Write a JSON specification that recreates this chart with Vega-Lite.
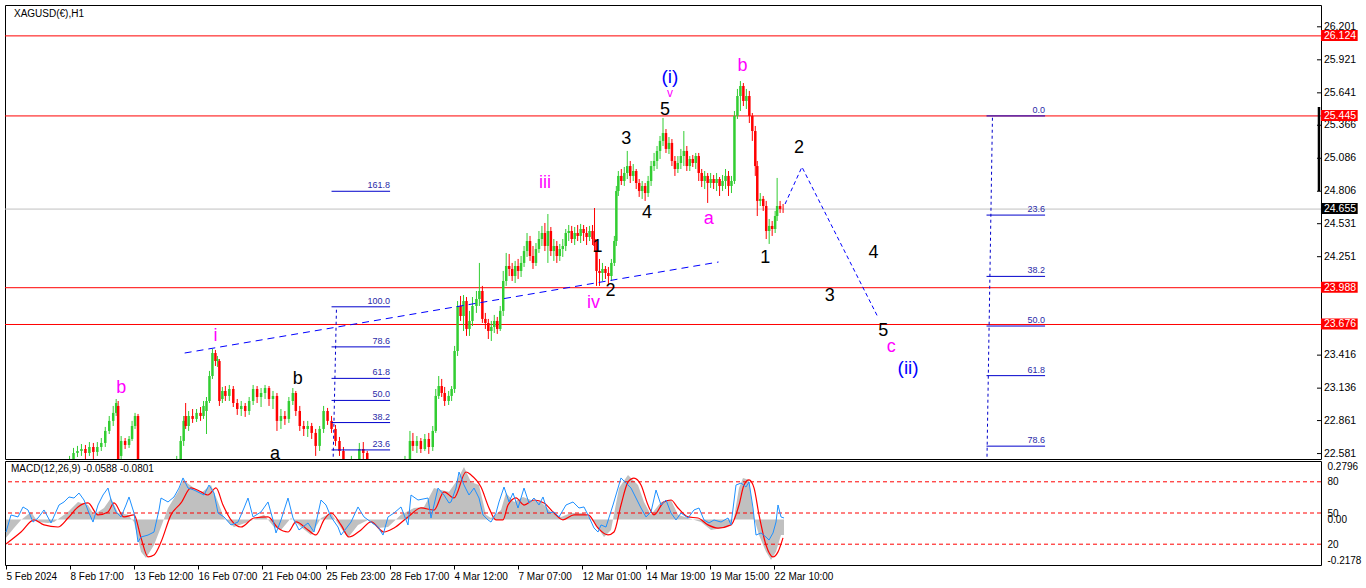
{
"$schema":"https://vega.github.io/schema/vega-lite/v6.json",
"background":"#ffffff",
"padding":{"left":4,"top":4,"right":0,"bottom":0},
"spacing":0,
"config":{"font":"Liberation Sans","view":{"stroke":"#000000","strokeWidth":1}},
"datasets":{
"reds":[{"p":26.124},{"p":25.445},{"p":23.988},{"p":23.676}],
"cur":[{"p":24.655}],
"pticks":[{"p":26.201},{"p":25.921},{"p":25.641},{"p":25.366},{"p":25.086},{"p":24.806},{"p":24.531},{"p":24.251},{"p":23.416},{"p":23.136},{"p":22.861},{"p":22.581}],
"titles":[{"txt":"XAGUSD(€),H1"}],
"mtitle":[{"txt":"MACD(12,26,9) -0.0588 -0.0801"}],
"trend":[{"t":176,"p":23.434},{"t":714,"p":24.206}],
"proj":[{"t":781,"p":24.698},{"t":798,"p":25.012},{"t":874,"p":23.748}],
"fibv":[{"g":"L","t":329,"p":23.826},{"g":"L","t":325,"p":22.3},{"g":"R","t":990,"p":25.445},{"g":"R","t":984,"p":22.3}],
"fib":[
{"t0":324,"t1":383,"p":24.806,"lvl":"161.8"},
{"t0":324,"t1":383,"p":23.826,"lvl":"100.0"},
{"t0":324,"t1":383,"p":23.486,"lvl":"78.6"},
{"t0":324,"t1":383,"p":23.219,"lvl":"61.8"},
{"t0":324,"t1":383,"p":23.032,"lvl":"50.0"},
{"t0":324,"t1":383,"p":22.844,"lvl":"38.2"},
{"t0":324,"t1":383,"p":22.612,"lvl":"23.6"},
{"t0":984,"t1":1043,"p":25.445,"lvl":"0.0"},
{"t0":984,"t1":1043,"p":24.604,"lvl":"23.6"},
{"t0":984,"t1":1043,"p":24.084,"lvl":"38.2"},
{"t0":984,"t1":1043,"p":23.663,"lvl":"50.0"},
{"t0":984,"t1":1043,"p":23.242,"lvl":"61.8"},
{"t0":984,"t1":1043,"p":22.644,"lvl":"78.6"}],
"waves":[
{"t":665,"p":25.776,"lab":"(i)","k":"blu"},
{"t":905,"p":23.307,"lab":"(ii)","k":"blu"},
{"t":665,"p":25.64,"lab":"v","k":"mag"},
{"t":660,"p":25.496,"lab":"5","k":"blk"},
{"t":738,"p":25.869,"lab":"b","k":"mag"},
{"t":621,"p":25.249,"lab":"3","k":"blk"},
{"t":539,"p":24.876,"lab":"iii","k":"mag"},
{"t":642,"p":24.622,"lab":"4","k":"blk"},
{"t":704,"p":24.571,"lab":"a","k":"mag"},
{"t":592,"p":24.333,"lab":"1","k":"blk"},
{"t":605,"p":23.96,"lab":"2","k":"blk"},
{"t":588,"p":23.858,"lab":"iv","k":"mag"},
{"t":761,"p":24.24,"lab":"1","k":"blk"},
{"t":795,"p":25.173,"lab":"2","k":"blk"},
{"t":870,"p":24.283,"lab":"4","k":"blk"},
{"t":826,"p":23.918,"lab":"3","k":"blk"},
{"t":880,"p":23.621,"lab":"5","k":"blk"},
{"t":888,"p":23.485,"lab":"c","k":"mag"},
{"t":207,"p":23.579,"lab":"i","k":"mag"},
{"t":112,"p":23.137,"lab":"b","k":"mag"},
{"t":290,"p":23.214,"lab":"b","k":"blk"},
{"t":267,"p":22.578,"lab":"a","k":"blk"}],
"candles":[
{"t":4,"o":22.349,"h":22.433,"l":22.306,"c":22.391},
{"t":12,"o":22.391,"h":22.467,"l":22.349,"c":22.433},
{"t":20,"o":22.433,"h":22.476,"l":22.366,"c":22.416},
{"t":28,"o":22.416,"h":22.493,"l":22.383,"c":22.45},
{"t":36,"o":22.45,"h":22.518,"l":22.416,"c":22.476},
{"t":44,"o":22.476,"h":22.501,"l":22.4,"c":22.433},
{"t":52,"o":22.433,"h":22.501,"l":22.391,"c":22.467},
{"t":60,"o":22.467,"h":22.561,"l":22.433,"c":22.518},
{"t":64,"o":22.518,"h":22.629,"l":22.501,"c":22.586},
{"t":68,"o":22.586,"h":22.646,"l":22.552,"c":22.603},
{"t":72,"o":22.603,"h":22.662,"l":22.561,"c":22.62},
{"t":76,"o":22.62,"h":22.654,"l":22.535,"c":22.586},
{"t":80,"o":22.586,"h":22.679,"l":22.561,"c":22.637},
{"t":84,"o":22.637,"h":22.671,"l":22.535,"c":22.595},
{"t":88,"o":22.595,"h":22.679,"l":22.561,"c":22.637},
{"t":92,"o":22.637,"h":22.713,"l":22.603,"c":22.671},
{"t":96,"o":22.671,"h":22.807,"l":22.637,"c":22.773},
{"t":100,"o":22.773,"h":22.9,"l":22.747,"c":22.858},
{"t":104,"o":22.858,"h":22.985,"l":22.815,"c":22.926},
{"t":107,"o":22.926,"h":23.044,"l":22.9,"c":23.01},
{"t":109,"o":22.985,"h":23.027,"l":22.476,"c":22.518},
{"t":112,"o":22.561,"h":22.73,"l":22.518,"c":22.688},
{"t":116,"o":22.688,"h":22.713,"l":22.62,"c":22.654},
{"t":120,"o":22.654,"h":22.73,"l":22.629,"c":22.705},
{"t":123,"o":22.705,"h":22.858,"l":22.688,"c":22.815},
{"t":126,"o":22.815,"h":22.926,"l":22.79,"c":22.9},
{"t":129,"o":22.9,"h":22.917,"l":22.391,"c":22.433},
{"t":136,"o":22.433,"h":22.476,"l":22.264,"c":22.349},
{"t":144,"o":22.349,"h":22.391,"l":22.221,"c":22.264},
{"t":152,"o":22.264,"h":22.349,"l":22.179,"c":22.306},
{"t":160,"o":22.306,"h":22.433,"l":22.264,"c":22.391},
{"t":168,"o":22.391,"h":22.561,"l":22.349,"c":22.518},
{"t":172,"o":22.518,"h":22.73,"l":22.476,"c":22.688},
{"t":175,"o":22.688,"h":22.9,"l":22.646,"c":22.858},
{"t":177,"o":22.9,"h":23.01,"l":22.79,"c":22.815},
{"t":180,"o":22.815,"h":22.942,"l":22.773,"c":22.9},
{"t":184,"o":22.9,"h":22.959,"l":22.841,"c":22.875},
{"t":188,"o":22.875,"h":22.959,"l":22.849,"c":22.926},
{"t":192,"o":22.926,"h":22.976,"l":22.858,"c":22.9},
{"t":195,"o":22.9,"h":23.027,"l":22.875,"c":22.985},
{"t":198,"o":22.942,"h":23.061,"l":22.747,"c":23.027},
{"t":201,"o":23.027,"h":23.282,"l":23.01,"c":23.239},
{"t":204,"o":23.239,"h":23.468,"l":23.214,"c":23.434},
{"t":207,"o":23.434,"h":23.46,"l":23.324,"c":23.366},
{"t":209,"o":23.366,"h":23.409,"l":23.316,"c":23.383},
{"t":211,"o":23.366,"h":23.383,"l":22.985,"c":23.027},
{"t":214,"o":23.044,"h":23.146,"l":23.01,"c":23.112},
{"t":217,"o":23.112,"h":23.154,"l":23.027,"c":23.07},
{"t":221,"o":23.07,"h":23.163,"l":23.027,"c":23.129},
{"t":225,"o":23.129,"h":23.154,"l":22.976,"c":23.01},
{"t":229,"o":23.01,"h":23.044,"l":22.909,"c":22.959},
{"t":233,"o":22.959,"h":23.027,"l":22.9,"c":22.985},
{"t":237,"o":22.985,"h":23.01,"l":22.892,"c":22.942},
{"t":241,"o":22.942,"h":23.061,"l":22.909,"c":23.027},
{"t":245,"o":23.027,"h":23.163,"l":22.993,"c":23.129},
{"t":249,"o":23.129,"h":23.154,"l":23.01,"c":23.061},
{"t":253,"o":23.061,"h":23.137,"l":22.976,"c":23.095},
{"t":257,"o":23.095,"h":23.163,"l":23.044,"c":23.137},
{"t":261,"o":23.137,"h":23.154,"l":22.985,"c":23.044},
{"t":265,"o":23.044,"h":23.112,"l":22.959,"c":23.07},
{"t":269,"o":23.07,"h":23.095,"l":22.773,"c":22.858},
{"t":273,"o":22.858,"h":22.959,"l":22.79,"c":22.9},
{"t":277,"o":22.9,"h":22.942,"l":22.824,"c":22.875},
{"t":281,"o":22.875,"h":23.061,"l":22.841,"c":23.027},
{"t":285,"o":23.027,"h":23.137,"l":22.993,"c":23.095},
{"t":288,"o":23.095,"h":23.112,"l":22.9,"c":22.942},
{"t":292,"o":22.942,"h":22.985,"l":22.773,"c":22.815},
{"t":296,"o":22.815,"h":22.858,"l":22.73,"c":22.79},
{"t":300,"o":22.79,"h":22.858,"l":22.722,"c":22.815},
{"t":304,"o":22.815,"h":22.841,"l":22.705,"c":22.756},
{"t":308,"o":22.756,"h":22.79,"l":22.561,"c":22.646},
{"t":312,"o":22.646,"h":22.815,"l":22.603,"c":22.79},
{"t":316,"o":22.79,"h":22.985,"l":22.756,"c":22.942},
{"t":320,"o":22.942,"h":22.968,"l":22.824,"c":22.858},
{"t":324,"o":22.858,"h":22.9,"l":22.756,"c":22.79},
{"t":328,"o":22.79,"h":22.824,"l":22.646,"c":22.688},
{"t":332,"o":22.688,"h":22.722,"l":22.561,"c":22.603},
{"t":336,"o":22.603,"h":22.637,"l":22.433,"c":22.476},
{"t":344,"o":22.476,"h":22.561,"l":22.416,"c":22.501},
{"t":352,"o":22.501,"h":22.671,"l":22.476,"c":22.62},
{"t":356,"o":22.62,"h":22.679,"l":22.535,"c":22.586},
{"t":360,"o":22.586,"h":22.603,"l":22.433,"c":22.476},
{"t":368,"o":22.476,"h":22.518,"l":22.349,"c":22.391},
{"t":376,"o":22.391,"h":22.476,"l":22.332,"c":22.433},
{"t":384,"o":22.433,"h":22.476,"l":22.306,"c":22.366},
{"t":392,"o":22.366,"h":22.476,"l":22.332,"c":22.433},
{"t":398,"o":22.433,"h":22.561,"l":22.391,"c":22.518},
{"t":403,"o":22.518,"h":22.773,"l":22.501,"c":22.688},
{"t":406,"o":22.688,"h":22.756,"l":22.603,"c":22.646},
{"t":410,"o":22.646,"h":22.73,"l":22.586,"c":22.688},
{"t":414,"o":22.688,"h":22.713,"l":22.586,"c":22.62},
{"t":418,"o":22.62,"h":22.747,"l":22.603,"c":22.705},
{"t":422,"o":22.705,"h":22.756,"l":22.578,"c":22.637},
{"t":426,"o":22.637,"h":22.815,"l":22.603,"c":22.773},
{"t":429,"o":22.773,"h":23.129,"l":22.756,"c":23.07},
{"t":432,"o":23.07,"h":23.239,"l":23.044,"c":23.154},
{"t":435,"o":23.154,"h":23.214,"l":23.061,"c":23.095},
{"t":438,"o":23.095,"h":23.146,"l":22.985,"c":23.027},
{"t":442,"o":23.027,"h":23.112,"l":22.993,"c":23.07},
{"t":445,"o":23.07,"h":23.154,"l":23.027,"c":23.129},
{"t":448,"o":23.129,"h":23.494,"l":23.095,"c":23.451},
{"t":451,"o":23.451,"h":23.875,"l":23.409,"c":23.833},
{"t":454,"o":23.833,"h":23.918,"l":23.706,"c":23.748},
{"t":457,"o":23.748,"h":23.926,"l":23.621,"c":23.875},
{"t":460,"o":23.875,"h":23.909,"l":23.579,"c":23.638},
{"t":463,"o":23.638,"h":23.791,"l":23.579,"c":23.706},
{"t":466,"o":23.706,"h":23.909,"l":23.663,"c":23.833},
{"t":470,"o":23.833,"h":23.96,"l":23.774,"c":23.892},
{"t":473,"o":23.892,"h":24.198,"l":23.833,"c":23.96},
{"t":476,"o":23.96,"h":24.003,"l":23.689,"c":23.723},
{"t":479,"o":23.723,"h":23.774,"l":23.638,"c":23.689},
{"t":482,"o":23.689,"h":23.723,"l":23.553,"c":23.621},
{"t":485,"o":23.621,"h":23.706,"l":23.536,"c":23.655},
{"t":488,"o":23.655,"h":23.757,"l":23.604,"c":23.706},
{"t":491,"o":23.706,"h":23.74,"l":23.596,"c":23.638},
{"t":494,"o":23.638,"h":23.833,"l":23.621,"c":23.791},
{"t":497,"o":23.791,"h":24.13,"l":23.748,"c":24.045},
{"t":500,"o":24.045,"h":24.283,"l":24.003,"c":24.172},
{"t":503,"o":24.172,"h":24.274,"l":24.087,"c":24.147},
{"t":506,"o":24.147,"h":24.198,"l":24.045,"c":24.087},
{"t":509,"o":24.087,"h":24.215,"l":24.028,"c":24.172},
{"t":512,"o":24.172,"h":24.232,"l":24.062,"c":24.13},
{"t":515,"o":24.13,"h":24.257,"l":24.079,"c":24.198},
{"t":518,"o":24.198,"h":24.342,"l":24.164,"c":24.299},
{"t":521,"o":24.299,"h":24.452,"l":24.249,"c":24.384},
{"t":524,"o":24.384,"h":24.427,"l":24.215,"c":24.257},
{"t":527,"o":24.257,"h":24.342,"l":24.147,"c":24.198},
{"t":530,"o":24.198,"h":24.367,"l":24.172,"c":24.316},
{"t":533,"o":24.316,"h":24.469,"l":24.283,"c":24.401},
{"t":536,"o":24.401,"h":24.512,"l":24.342,"c":24.452},
{"t":539,"o":24.452,"h":24.537,"l":24.299,"c":24.342},
{"t":542,"o":24.342,"h":24.613,"l":24.198,"c":24.469},
{"t":545,"o":24.469,"h":24.503,"l":24.257,"c":24.299},
{"t":548,"o":24.299,"h":24.401,"l":24.215,"c":24.342},
{"t":551,"o":24.342,"h":24.384,"l":24.198,"c":24.257},
{"t":554,"o":24.257,"h":24.359,"l":24.215,"c":24.316},
{"t":557,"o":24.316,"h":24.401,"l":24.249,"c":24.342},
{"t":560,"o":24.342,"h":24.486,"l":24.299,"c":24.452},
{"t":563,"o":24.452,"h":24.52,"l":24.384,"c":24.469},
{"t":566,"o":24.469,"h":24.512,"l":24.367,"c":24.401},
{"t":569,"o":24.401,"h":24.503,"l":24.35,"c":24.452},
{"t":572,"o":24.452,"h":24.52,"l":24.384,"c":24.427},
{"t":575,"o":24.427,"h":24.529,"l":24.367,"c":24.486},
{"t":578,"o":24.486,"h":24.52,"l":24.384,"c":24.452},
{"t":581,"o":24.452,"h":24.503,"l":24.35,"c":24.418},
{"t":584,"o":24.418,"h":24.512,"l":24.384,"c":24.469},
{"t":587,"o":24.469,"h":24.52,"l":24.35,"c":24.401},
{"t":589,"o":24.401,"h":24.664,"l":24.299,"c":24.342},
{"t":591,"o":24.342,"h":24.384,"l":24.003,"c":24.13},
{"t":594,"o":24.13,"h":24.232,"l":24.003,"c":24.113},
{"t":597,"o":24.113,"h":24.198,"l":24.045,"c":24.147},
{"t":600,"o":24.147,"h":24.172,"l":24.062,"c":24.113},
{"t":603,"o":24.113,"h":24.164,"l":24.02,"c":24.087},
{"t":606,"o":24.087,"h":24.232,"l":24.045,"c":24.198},
{"t":609,"o":24.198,"h":24.427,"l":24.172,"c":24.384},
{"t":611,"o":24.384,"h":24.851,"l":24.342,"c":24.808},
{"t":613,"o":24.808,"h":24.978,"l":24.766,"c":24.936},
{"t":616,"o":24.936,"h":24.995,"l":24.859,"c":24.893},
{"t":619,"o":24.893,"h":25.012,"l":24.851,"c":24.961},
{"t":622,"o":24.961,"h":25.148,"l":24.91,"c":25.02},
{"t":625,"o":25.02,"h":25.063,"l":24.876,"c":24.936},
{"t":628,"o":24.936,"h":25.037,"l":24.893,"c":24.978},
{"t":631,"o":24.978,"h":24.995,"l":24.825,"c":24.876},
{"t":634,"o":24.876,"h":24.91,"l":24.758,"c":24.808},
{"t":637,"o":24.808,"h":24.893,"l":24.741,"c":24.851},
{"t":640,"o":24.851,"h":24.876,"l":24.724,"c":24.791},
{"t":643,"o":24.791,"h":24.936,"l":24.758,"c":24.893},
{"t":646,"o":24.893,"h":25.063,"l":24.851,"c":25.02},
{"t":649,"o":25.02,"h":25.131,"l":24.978,"c":25.063},
{"t":652,"o":25.063,"h":25.19,"l":24.995,"c":25.148},
{"t":655,"o":25.148,"h":25.275,"l":25.08,"c":25.233},
{"t":658,"o":25.233,"h":25.428,"l":25.19,"c":25.3},
{"t":661,"o":25.3,"h":25.334,"l":25.131,"c":25.165},
{"t":664,"o":25.165,"h":25.266,"l":25.122,"c":25.216},
{"t":667,"o":25.216,"h":25.249,"l":25.02,"c":25.063},
{"t":670,"o":25.063,"h":25.105,"l":24.936,"c":24.995},
{"t":673,"o":24.995,"h":25.105,"l":24.961,"c":25.046},
{"t":676,"o":25.046,"h":25.165,"l":24.995,"c":25.105},
{"t":679,"o":25.105,"h":25.317,"l":25.02,"c":25.148},
{"t":682,"o":25.148,"h":25.19,"l":24.978,"c":25.02},
{"t":685,"o":25.02,"h":25.105,"l":24.978,"c":25.08},
{"t":688,"o":25.08,"h":25.114,"l":25.012,"c":25.046},
{"t":691,"o":25.046,"h":25.131,"l":24.995,"c":25.105},
{"t":694,"o":25.105,"h":25.131,"l":24.893,"c":24.961},
{"t":697,"o":24.961,"h":24.995,"l":24.842,"c":24.893},
{"t":700,"o":24.893,"h":24.978,"l":24.825,"c":24.936},
{"t":703,"o":24.936,"h":24.961,"l":24.707,"c":24.876},
{"t":706,"o":24.876,"h":24.961,"l":24.834,"c":24.91},
{"t":709,"o":24.91,"h":24.944,"l":24.825,"c":24.876},
{"t":712,"o":24.876,"h":24.961,"l":24.808,"c":24.91},
{"t":715,"o":24.91,"h":24.927,"l":24.766,"c":24.851},
{"t":718,"o":24.851,"h":24.944,"l":24.808,"c":24.893},
{"t":721,"o":24.893,"h":24.995,"l":24.825,"c":24.936},
{"t":724,"o":24.936,"h":24.978,"l":24.766,"c":24.851},
{"t":727,"o":24.851,"h":24.936,"l":24.791,"c":24.893},
{"t":730,"o":24.893,"h":25.487,"l":24.868,"c":25.445},
{"t":733,"o":25.445,"h":25.674,"l":25.419,"c":25.614},
{"t":736,"o":25.614,"h":25.741,"l":25.487,"c":25.699},
{"t":739,"o":25.699,"h":25.724,"l":25.529,"c":25.572},
{"t":742,"o":25.572,"h":25.674,"l":25.504,"c":25.614},
{"t":745,"o":25.614,"h":25.657,"l":25.385,"c":25.445},
{"t":748,"o":25.445,"h":25.47,"l":25.233,"c":25.317},
{"t":751,"o":25.317,"h":25.36,"l":24.936,"c":25.02},
{"t":753,"o":25.02,"h":25.063,"l":24.596,"c":24.724},
{"t":756,"o":24.724,"h":24.791,"l":24.681,"c":24.741},
{"t":759,"o":24.741,"h":24.766,"l":24.639,"c":24.681},
{"t":762,"o":24.681,"h":24.724,"l":24.401,"c":24.469},
{"t":765,"o":24.469,"h":24.571,"l":24.359,"c":24.512},
{"t":768,"o":24.512,"h":24.554,"l":24.427,"c":24.486},
{"t":771,"o":24.486,"h":24.639,"l":24.452,"c":24.596},
{"t":773,"o":24.596,"h":24.919,"l":24.554,"c":24.681},
{"t":776,"o":24.681,"h":24.724,"l":24.622,"c":24.656},
{"t":779,"o":24.656,"h":24.698,"l":24.622,"c":24.655}],
"hist":[
{"t":1,"m":-0.088},{"t":9,"m":-0.041},{"t":16,"m":-0.002},{"t":26,"m":0.036},{"t":33,"m":-0.012},{"t":43,"m":-0.017},{"t":49,"m":-0.012},{"t":63,"m":0.036},{"t":73,"m":0.084},{"t":83,"m":0.069},{"t":89,"m":0.022},{"t":99,"m":0.055},{"t":106,"m":0.103},{"t":113,"m":0.031},{"t":123,"m":0.022},{"t":129,"m":-0.012},{"t":136,"m":-0.155},{"t":141,"m":-0.184},{"t":149,"m":-0.122},{"t":156,"m":-0.036},{"t":163,"m":0.055},{"t":173,"m":0.132},{"t":178,"m":0.189},{"t":189,"m":0.151},{"t":196,"m":0.127},{"t":206,"m":0.165},{"t":213,"m":0.084},{"t":219,"m":0.007},{"t":229,"m":-0.036},{"t":243,"m":-0.012},{"t":259,"m":0.022},{"t":269,"m":-0.036},{"t":276,"m":-0.05},{"t":286,"m":0.007},{"t":296,"m":-0.036},{"t":306,"m":-0.074},{"t":316,"m":0.007},{"t":326,"m":0.031},{"t":336,"m":-0.041},{"t":343,"m":-0.088},{"t":353,"m":-0.026},{"t":363,"m":-0.002},{"t":373,"m":-0.041},{"t":383,"m":-0.036},{"t":396,"m":0.022},{"t":409,"m":0.055},{"t":419,"m":0.06},{"t":429,"m":0.151},{"t":436,"m":0.141},{"t":444,"m":0.132},{"t":451,"m":0.179},{"t":459,"m":0.251},{"t":466,"m":0.179},{"t":474,"m":0.165},{"t":481,"m":0.022},{"t":486,"m":0.007},{"t":496,"m":0.045},{"t":501,"m":0.127},{"t":509,"m":0.084},{"t":518,"m":0.108},{"t":526,"m":0.093},{"t":536,"m":0.084},{"t":546,"m":0.036},{"t":556,"m":0.012},{"t":566,"m":0.031},{"t":579,"m":0.031},{"t":589,"m":-0.012},{"t":599,"m":-0.084},{"t":606,"m":-0.05},{"t":614,"m":0.151},{"t":623,"m":0.213},{"t":633,"m":0.165},{"t":639,"m":0.084},{"t":646,"m":0.022},{"t":656,"m":0.084},{"t":666,"m":0.093},{"t":673,"m":0.022},{"t":683,"m":0.007},{"t":696,"m":-0.012},{"t":706,"m":-0.05},{"t":723,"m":-0.036},{"t":729,"m":0.007},{"t":734,"m":0.151},{"t":738,"m":0.198},{"t":744,"m":0.189},{"t":749,"m":0.007},{"t":754,"m":-0.074},{"t":761,"m":-0.155},{"t":766,"m":-0.194},{"t":771,"m":-0.155},{"t":776,"m":-0.074},{"t":779,"m":-0.074}],
"signal":[
{"t":1,"m":-0.117},{"t":16,"m":-0.06},{"t":29,"m":-0.002},{"t":39,"m":-0.026},{"t":53,"m":-0.036},{"t":63,"m":0.007},{"t":73,"m":0.06},{"t":83,"m":0.079},{"t":93,"m":0.022},{"t":103,"m":0.036},{"t":109,"m":0.079},{"t":119,"m":0.012},{"t":129,"m":0.022},{"t":136,"m":-0.088},{"t":143,"m":-0.179},{"t":149,"m":-0.17},{"t":156,"m":-0.108},{"t":166,"m":0.022},{"t":176,"m":0.079},{"t":186,"m":0.151},{"t":196,"m":0.132},{"t":203,"m":0.117},{"t":211,"m":0.151},{"t":218,"m":0.069},{"t":226,"m":-0.002},{"t":236,"m":-0.036},{"t":249,"m":0.007},{"t":263,"m":0.012},{"t":273,"m":-0.041},{"t":283,"m":-0.06},{"t":291,"m":-0.012},{"t":303,"m":-0.05},{"t":311,"m":-0.074},{"t":319,"m":-0.002},{"t":326,"m":0.031},{"t":336,"m":-0.026},{"t":344,"m":-0.084},{"t":356,"m":-0.05},{"t":366,"m":-0.012},{"t":379,"m":-0.06},{"t":389,"m":-0.041},{"t":403,"m":0.012},{"t":416,"m":0.055},{"t":429,"m":0.045},{"t":439,"m":0.132},{"t":449,"m":0.103},{"t":461,"m":0.227},{"t":466,"m":0.213},{"t":476,"m":0.155},{"t":484,"m":0.055},{"t":491,"m":-0.002},{"t":498,"m":-0.002},{"t":503,"m":0.069},{"t":511,"m":0.103},{"t":519,"m":0.069},{"t":529,"m":0.093},{"t":539,"m":0.079},{"t":549,"m":0.031},{"t":558,"m":-0.002},{"t":569,"m":0.022},{"t":583,"m":0.022},{"t":593,"m":-0.041},{"t":603,"m":-0.074},{"t":609,"m":-0.06},{"t":616,"m":0.069},{"t":623,"m":0.179},{"t":629,"m":0.198},{"t":636,"m":0.165},{"t":643,"m":0.069},{"t":649,"m":0.022},{"t":659,"m":0.084},{"t":666,"m":0.093},{"t":673,"m":0.055},{"t":683,"m":0.012},{"t":693,"m":0.007},{"t":703,"m":-0.026},{"t":713,"m":-0.041},{"t":726,"m":-0.026},{"t":734,"m":0.069},{"t":739,"m":0.165},{"t":744,"m":0.189},{"t":749,"m":0.151},{"t":754,"m":0.022},{"t":761,"m":-0.122},{"t":768,"m":-0.179},{"t":773,"m":-0.155},{"t":778,"m":-0.088}],
"osc":[
{"t":1,"v":31.7},{"t":6,"v":48.1},{"t":13,"v":46.2},{"t":18,"v":55.8},{"t":23,"v":52.9},{"t":28,"v":41.3},{"t":33,"v":45.2},{"t":39,"v":52.9},{"t":46,"v":40.4},{"t":54,"v":57.7},{"t":59,"v":60.6},{"t":64,"v":65.4},{"t":69,"v":64.4},{"t":74,"v":69.2},{"t":79,"v":62.5},{"t":84,"v":50},{"t":88,"v":41.3},{"t":93,"v":57.7},{"t":98,"v":67.3},{"t":103,"v":74},{"t":106,"v":62.5},{"t":111,"v":51},{"t":116,"v":46.2},{"t":121,"v":57.7},{"t":124,"v":65.4},{"t":129,"v":50},{"t":133,"v":22.1},{"t":136,"v":26.9},{"t":143,"v":28.8},{"t":149,"v":31.7},{"t":154,"v":52.9},{"t":156,"v":64.4},{"t":163,"v":60.6},{"t":169,"v":65.4},{"t":174,"v":74},{"t":178,"v":83.7},{"t":183,"v":74},{"t":189,"v":72.1},{"t":199,"v":67.3},{"t":204,"v":76.9},{"t":209,"v":69.2},{"t":213,"v":50},{"t":219,"v":46.2},{"t":226,"v":38.5},{"t":233,"v":41.3},{"t":239,"v":54.8},{"t":243,"v":64.4},{"t":248,"v":46.2},{"t":256,"v":51},{"t":263,"v":60.6},{"t":268,"v":43.3},{"t":271,"v":30.8},{"t":276,"v":43.3},{"t":283,"v":64.4},{"t":288,"v":45.2},{"t":294,"v":33.7},{"t":303,"v":40.4},{"t":309,"v":31.7},{"t":316,"v":62.5},{"t":321,"v":57.7},{"t":326,"v":46.2},{"t":333,"v":36.5},{"t":336,"v":28.8},{"t":346,"v":41.3},{"t":353,"v":55.8},{"t":359,"v":46.2},{"t":366,"v":41.3},{"t":373,"v":36.5},{"t":378,"v":28.8},{"t":383,"v":46.2},{"t":389,"v":50},{"t":396,"v":55.8},{"t":403,"v":38.5},{"t":406,"v":67.3},{"t":413,"v":62.5},{"t":423,"v":64.4},{"t":426,"v":45.2},{"t":433,"v":74},{"t":439,"v":67.3},{"t":444,"v":59.6},{"t":446,"v":60.6},{"t":451,"v":74},{"t":454,"v":89.4},{"t":459,"v":76.9},{"t":464,"v":67.3},{"t":469,"v":74},{"t":474,"v":64.4},{"t":478,"v":48.1},{"t":483,"v":43.3},{"t":486,"v":41.3},{"t":491,"v":50},{"t":494,"v":60.6},{"t":499,"v":75},{"t":504,"v":60.6},{"t":508,"v":69.2},{"t":513,"v":54.8},{"t":519,"v":74},{"t":524,"v":59.6},{"t":529,"v":64.4},{"t":534,"v":57.7},{"t":538,"v":65.4},{"t":543,"v":50},{"t":549,"v":51},{"t":554,"v":46.2},{"t":561,"v":57.7},{"t":568,"v":60.6},{"t":574,"v":54.8},{"t":579,"v":55.8},{"t":584,"v":46.2},{"t":589,"v":35.6},{"t":593,"v":31.7},{"t":596,"v":38.5},{"t":601,"v":36.5},{"t":608,"v":57.7},{"t":613,"v":74},{"t":616,"v":83.7},{"t":621,"v":78.8},{"t":626,"v":74},{"t":631,"v":64.4},{"t":636,"v":54.8},{"t":641,"v":46.2},{"t":646,"v":51},{"t":651,"v":72.1},{"t":656,"v":57.7},{"t":661,"v":62.5},{"t":666,"v":50},{"t":671,"v":43.3},{"t":676,"v":50},{"t":683,"v":45.2},{"t":689,"v":52.9},{"t":694,"v":54.8},{"t":699,"v":43.3},{"t":704,"v":40.4},{"t":709,"v":43.3},{"t":716,"v":41.3},{"t":723,"v":45.2},{"t":726,"v":38.5},{"t":731,"v":76.9},{"t":736,"v":78.8},{"t":741,"v":75},{"t":744,"v":79.8},{"t":748,"v":54.8},{"t":751,"v":28.8},{"t":756,"v":30.8},{"t":761,"v":26.9},{"t":764,"v":24},{"t":768,"v":30.8},{"t":771,"v":41.3},{"t":773,"v":57.7},{"t":776,"v":46.2},{"t":779,"v":45.2}],
"osclv":[{"v":80},{"v":50},{"v":20}]
},
"vconcat":[
{
"width":1316,"height":454,
"layer":[
{"data":{"name":"reds"},"mark":{"type":"rule","color":"#ff0000","strokeWidth":1},
 "encoding":{"y":{"field":"p","type":"quantitative","scale":{"domain":[22.535,26.386],"nice":false,"zero":false},"axis":null}}},
{"data":{"name":"cur"},"mark":{"type":"rule","color":"#c0c0c0","strokeWidth":1},
 "encoding":{"y":{"field":"p","type":"quantitative","scale":{"domain":[22.535,26.386]},"axis":null}}},
{"data":{"name":"candles"},"mark":{"type":"rule","strokeWidth":1,"clip":true},
 "encoding":{"x":{"field":"t","type":"quantitative","scale":{"domain":[0,1316],"nice":false,"zero":false},"axis":null},
  "y":{"field":"l","type":"quantitative","scale":{"domain":[22.535,26.386]},"axis":null},"y2":{"field":"h"},
  "color":{"condition":{"test":"datum.c >= datum.o","value":"#32cd32"},"value":"#ff0000"}}},
{"data":{"name":"candles"},"mark":{"type":"bar","width":2.5,"clip":true},
 "encoding":{"x":{"field":"t","type":"quantitative","scale":{"domain":[0,1316]},"axis":null},
  "y":{"field":"o","type":"quantitative","scale":{"domain":[22.535,26.386]},"axis":null},"y2":{"field":"c"},
  "color":{"condition":{"test":"datum.c >= datum.o","value":"#32cd32"},"value":"#ff0000"}}},
{"data":{"name":"trend"},"mark":{"type":"line","color":"#0000ff","strokeWidth":1,"strokeDash":[7,5],"clip":true},
 "encoding":{"x":{"field":"t","type":"quantitative","scale":{"domain":[0,1316]},"axis":null},"y":{"field":"p","type":"quantitative","scale":{"domain":[22.535,26.386]},"axis":null}}},
{"data":{"name":"proj"},"mark":{"type":"line","color":"#0000ff","strokeWidth":1,"strokeDash":[4,3],"clip":true},
 "encoding":{"x":{"field":"t","type":"quantitative","scale":{"domain":[0,1316]},"axis":null},"y":{"field":"p","type":"quantitative","scale":{"domain":[22.535,26.386]},"axis":null}}},
{"data":{"name":"fibv"},"mark":{"type":"line","color":"#0000cc","strokeWidth":1,"strokeDash":[3,3],"clip":true},
 "encoding":{"x":{"field":"t","type":"quantitative","scale":{"domain":[0,1316]},"axis":null},"y":{"field":"p","type":"quantitative","scale":{"domain":[22.535,26.386]},"axis":null},"detail":{"field":"g"}}},
{"data":{"name":"fib"},"mark":{"type":"rule","color":"#0000cc","strokeWidth":1,"clip":true},
 "encoding":{"x":{"field":"t0","type":"quantitative","scale":{"domain":[0,1316]},"axis":null},"x2":{"field":"t1"},"y":{"field":"p","type":"quantitative","scale":{"domain":[22.535,26.386]},"axis":null}}},
{"data":{"name":"fib"},"mark":{"type":"text","color":"#2a2aa8","fontSize":9,"align":"right","baseline":"bottom","dy":-1,"font":"Liberation Sans"},
 "encoding":{"x":{"field":"t1","type":"quantitative","scale":{"domain":[0,1316]},"axis":null},"y":{"field":"p","type":"quantitative","scale":{"domain":[22.535,26.386]},"axis":null},"text":{"field":"lvl"}}},
{"data":{"name":"waves"},"transform":[{"filter":"datum.lab != '(i)' && datum.lab != '(ii)' && datum.lab != 'v'"}],
 "mark":{"type":"text","fontSize":18,"align":"center","baseline":"middle","font":"Liberation Sans","clip":true},
 "encoding":{"x":{"field":"t","type":"quantitative","scale":{"domain":[0,1316]},"axis":null},"y":{"field":"p","type":"quantitative","scale":{"domain":[22.535,26.386]},"axis":null},"text":{"field":"lab"},
  "color":{"field":"k","type":"nominal","scale":{"domain":["blk","mag","blu"],"range":["#000000","#ff00ff","#0000ff"]},"legend":null}}},
{"data":{"name":"waves"},"transform":[{"filter":"datum.lab == '(i)' || datum.lab == '(ii)'"}],
 "mark":{"type":"text","fontSize":19,"align":"center","baseline":"middle","font":"Liberation Sans"},
 "encoding":{"x":{"field":"t","type":"quantitative","scale":{"domain":[0,1316]},"axis":null},"y":{"field":"p","type":"quantitative","scale":{"domain":[22.535,26.386]},"axis":null},"text":{"field":"lab"},
  "color":{"field":"k","type":"nominal","scale":{"domain":["blk","mag","blu"],"range":["#000000","#ff00ff","#0000ff"]},"legend":null}}},
{"data":{"name":"waves"},"transform":[{"filter":"datum.lab == 'v'"}],
 "mark":{"type":"text","fontSize":12,"align":"center","baseline":"middle","font":"Liberation Sans"},
 "encoding":{"x":{"field":"t","type":"quantitative","scale":{"domain":[0,1316]},"axis":null},"y":{"field":"p","type":"quantitative","scale":{"domain":[22.535,26.386]},"axis":null},"text":{"field":"lab"},
  "color":{"field":"k","type":"nominal","scale":{"domain":["blk","mag","blu"],"range":["#000000","#ff00ff","#0000ff"]},"legend":null}}},
{"data":{"name":"titles"},"mark":{"type":"text","fontSize":10,"align":"left","baseline":"middle","color":"#000000","font":"Liberation Sans"},
 "encoding":{"x":{"datum":4,"scale":{"domain":[0,1316]},"axis":null},"y":{"datum":26.31,"scale":{"domain":[22.535,26.386]},"axis":null},"text":{"field":"txt"}}},
{"data":{"name":"pticks"},"mark":{"type":"rule","color":"#000000","strokeWidth":1},
 "encoding":{"x":{"datum":1317,"scale":{"domain":[0,1316]},"axis":null},"x2":{"datum":1321},"y":{"field":"p","type":"quantitative","scale":{"domain":[22.535,26.386]},"axis":null}}},
{"data":{"name":"pticks"},"mark":{"type":"text","color":"#000000","fontSize":10.5,"align":"left","baseline":"middle","font":"Liberation Sans"},
 "encoding":{"x":{"datum":1324,"scale":{"domain":[0,1316]},"axis":null},"y":{"field":"p","type":"quantitative","scale":{"domain":[22.535,26.386]},"axis":null},"text":{"field":"p","type":"quantitative","format":".3f"}}},
{"data":{"name":"reds"},"mark":{"type":"rect","color":"#ff0000","yOffset":-6,"y2Offset":5},
 "encoding":{"x":{"datum":1321,"scale":{"domain":[0,1316]},"axis":null},"x2":{"datum":1358},"y":{"field":"p","type":"quantitative","scale":{"domain":[22.535,26.386]},"axis":null},"y2":{"field":"p"}}},
{"data":{"name":"reds"},"mark":{"type":"text","color":"#ffffff","fontSize":10.5,"align":"left","baseline":"middle","font":"Liberation Sans"},
 "encoding":{"x":{"datum":1324,"scale":{"domain":[0,1316]},"axis":null},"y":{"field":"p","type":"quantitative","scale":{"domain":[22.535,26.386]},"axis":null},"text":{"field":"p","type":"quantitative","format":".3f"}}},
{"data":{"name":"cur"},"mark":{"type":"rect","color":"#000000","yOffset":-6,"y2Offset":5},
 "encoding":{"x":{"datum":1321,"scale":{"domain":[0,1316]},"axis":null},"x2":{"datum":1358},"y":{"field":"p","type":"quantitative","scale":{"domain":[22.535,26.386]},"axis":null},"y2":{"field":"p"}}},
{"data":{"name":"cur"},"mark":{"type":"text","color":"#ffffff","fontSize":10.5,"align":"left","baseline":"middle","font":"Liberation Sans"},
 "encoding":{"x":{"datum":1324,"scale":{"domain":[0,1316]},"axis":null},"y":{"field":"p","type":"quantitative","scale":{"domain":[22.535,26.386]},"axis":null},"text":{"field":"p","type":"quantitative","format":".3f"}}},
{"data":{"name":"cur"},"mark":{"type":"rule","color":"#000000","strokeWidth":2.5},
 "encoding":{"x":{"datum":1319,"scale":{"domain":[0,1316]},"axis":null},"y":{"datum":25.521,"scale":{"domain":[22.535,26.386]},"axis":null},"y2":{"datum":24.808}}}
]
},
{
"width":1316,"height":104,
"layer":[
{"layer":[
 {"data":{"name":"hist"},"mark":{"type":"area","color":"#c0c0c0","clip":true,"interpolate":"linear"},
  "encoding":{"x":{"field":"t","type":"quantitative","scale":{"domain":[0,1316],"nice":false,"zero":false},
    "axis":{"orient":"bottom","values":[1,65,129,193,257,321,385,449,513,577,641,705,769],
     "labelExpr":"['5 Feb 2024','8 Feb 17:00','13 Feb 12:00','16 Feb 07:00','21 Feb 04:00','25 Feb 23:00','28 Feb 17:00','4 Mar 12:00','7 Mar 07:00','12 Mar 01:00','14 Mar 19:00','19 Mar 15:00','22 Mar 10:00'][round((datum.value-1)/64)]",
     "labelAlign":"left","labelBaseline":"top","labelFlush":false,"labelOverlap":false,"title":null,"grid":false,"domain":false,"tickSize":4,"tickColor":"#000000","labelPadding":2,"labelFontSize":10,"labelFont":"Liberation Sans","labelColor":"#000000"}},
   "y":{"field":"m","type":"quantitative","scale":{"domain":[-0.2178,0.2796],"nice":false,"zero":false},
    "axis":{"orient":"right","values":[0.2796,0,-0.2178],"labelExpr":"datum.value > 0.1 ? '0.2796' : (datum.value < -0.1 ? '-0.2178' : '0.00')","labelFlush":true,"labelOverlap":false,"title":null,"grid":false,"domain":false,"ticks":false,"labelPadding":6,"labelFontSize":10,"labelFont":"Liberation Sans","labelColor":"#000000"}},
   "y2":{"datum":0}}},
 {"data":{"name":"signal"},"mark":{"type":"line","color":"#ff0000","strokeWidth":1.2,"interpolate":"monotone","clip":true},
  "encoding":{"x":{"field":"t","type":"quantitative","scale":{"domain":[0,1316]}},"y":{"field":"m","type":"quantitative","scale":{"domain":[-0.2178,0.2796]}}}},
 {"data":{"name":"mtitle"},"mark":{"type":"text","fontSize":10,"align":"left","baseline":"middle","color":"#000000","font":"Liberation Sans"},
  "encoding":{"x":{"datum":6,"scale":{"domain":[0,1316]}},"y":{"datum":0.2415,"scale":{"domain":[-0.2178,0.2796]}},"text":{"field":"txt"}}}
]},
{"layer":[
 {"data":{"name":"osclv"},"mark":{"type":"rule","color":"#ff0000","strokeWidth":1,"strokeDash":[4,3]},
  "encoding":{"y":{"field":"v","type":"quantitative","scale":{"domain":[0,100],"nice":false,"zero":false},
   "axis":{"orient":"right","values":[80,50,20],"format":"d","labelOverlap":false,"labelFlush":false,"title":null,"grid":false,"domain":false,"ticks":false,"labelPadding":6,"labelFontSize":10,"labelFont":"Liberation Sans","labelColor":"#000000"}}}},
 {"data":{"name":"osc"},"mark":{"type":"line","color":"#1e90ff","strokeWidth":1,"clip":true},
  "encoding":{"x":{"field":"t","type":"quantitative","scale":{"domain":[0,1316]}},"y":{"field":"v","type":"quantitative","scale":{"domain":[0,100]}}}}
]}
],
"resolve":{"scale":{"y":"independent"},"axis":{"y":"independent"}}
}
]
}
